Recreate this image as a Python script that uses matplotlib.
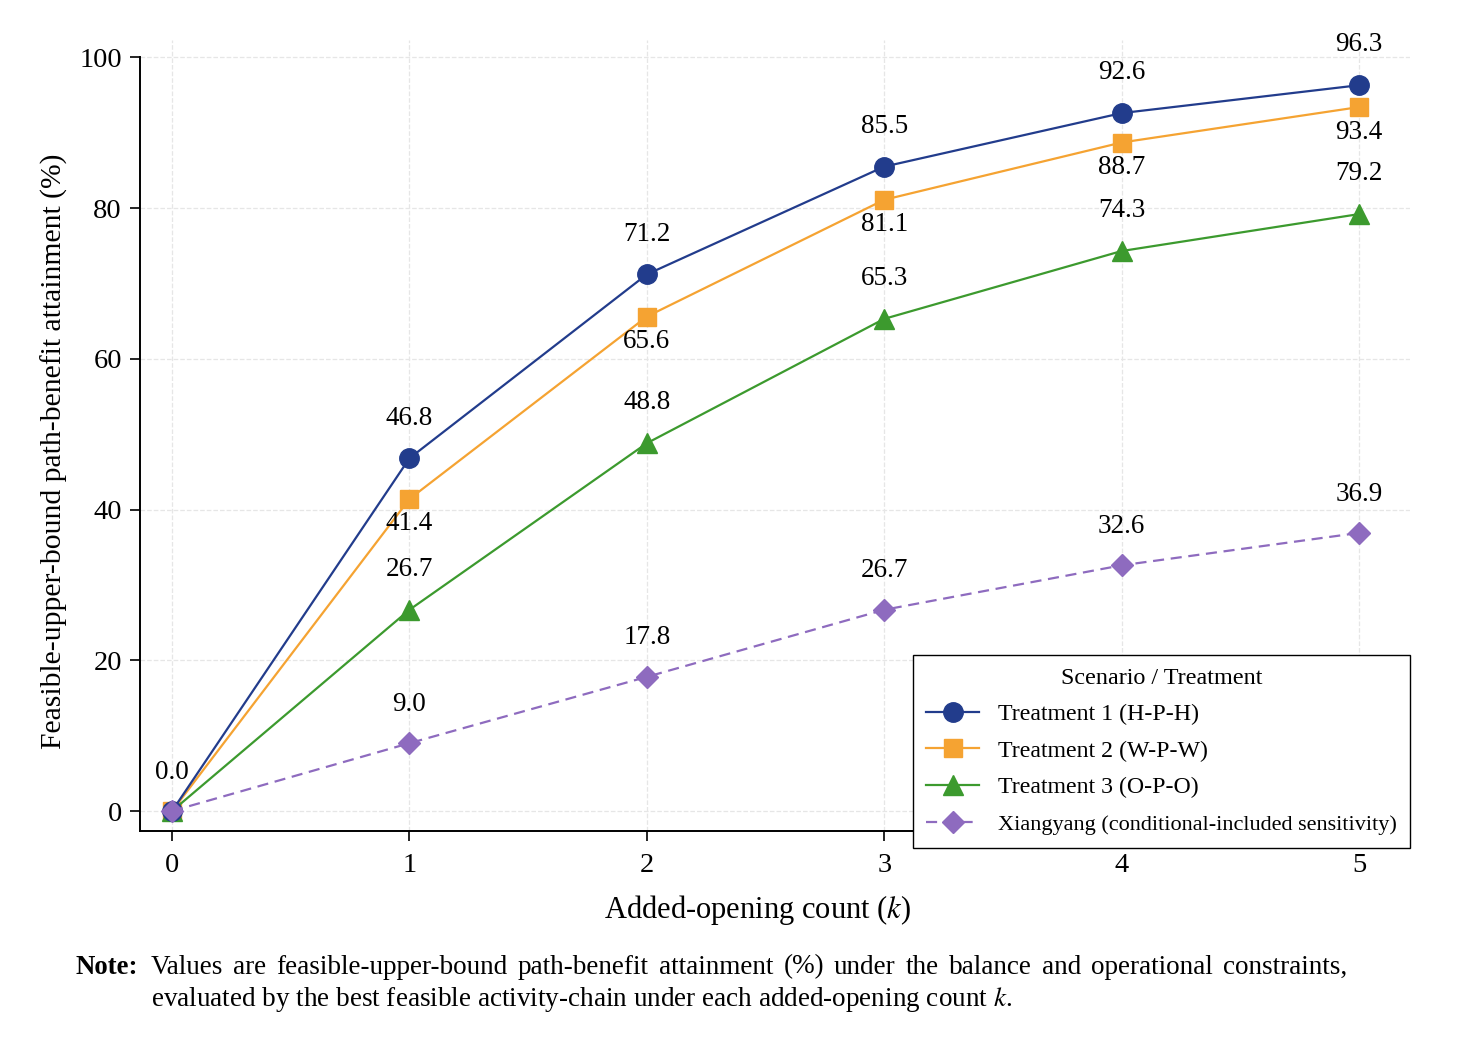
import numpy as np
import matplotlib
matplotlib.use("Agg")
import matplotlib.pyplot as plt

plt.rcParams['font.family'] = ['Liberation Serif', 'DejaVu Serif']
plt.rcParams['mathtext.fontset'] = 'stix'

# data
k = [0, 1, 2, 3, 4, 5]
t1 = [0.0, 46.8, 71.2, 85.5, 92.6, 96.3]
t2 = [0.0, 41.4, 65.6, 81.1, 88.7, 93.4]
t3 = [0.0, 26.7, 48.8, 65.3, 74.3, 79.2]
xiangyang = [0.0, 9.0, 17.8, 26.7, 32.6, 36.9]

labels = ['Treatment 1 (H-P-H)', 'Treatment 2 (W-P-W)', 'Treatment 3 (O-P-O)',
          'Xiangyang (conditional-included sensitivity)']
colors = ['#223c8c', '#f5a332', '#3c9a2e', '#8e6bbf']

note_line1 = ('Values are feasible-upper-bound path-benefit attainment (%) under the '
              'balance and operational constraints,')
note_line2 = r'evaluated by the best feasible activity-chain under each added-opening count $k$.'

fig = plt.figure(figsize=(14.63, 10.38), dpi=100)
ax = fig.add_axes([140 / 1463, 1 - 831 / 1038, 1270 / 1463, 791 / 1038])

ax.plot(k, t1, '-', color=colors[0], marker='o', ms=14, lw=1.6, label=labels[0], zorder=4)
ax.plot(k, t2, '-', color=colors[1], marker='s', ms=13.5, lw=1.6, label=labels[1], zorder=3)
ax.plot(k, t3, '-', color=colors[2], marker='^', ms=15, lw=1.6, label=labels[2], zorder=3)
ax.plot(k, xiangyang, '--', color=colors[3], marker='D', ms=11.5, lw=1.6, dashes=(5, 3),
        label=labels[3], zorder=5)

fs = 19.5
# value labels: T1 above, T2 below, T3 above, Xiangyang above
for x, y in zip(k[1:], t1[1:]):
    ax.annotate(f'{y:.1f}', (x, y), xytext=(0, 29), textcoords='offset points',
                ha='center', va='center', fontsize=fs)
for x, y in zip(k[1:], t2[1:]):
    ax.annotate(f'{y:.1f}', (x, y), xytext=(0, -18), textcoords='offset points',
                ha='center', va='center', fontsize=fs)
for x, y in zip(k[1:], t3[1:]):
    ax.annotate(f'{y:.1f}', (x, y), xytext=(0, 29), textcoords='offset points',
                ha='center', va='center', fontsize=fs)
for x, y in zip(k, xiangyang):
    ax.annotate(f'{y:.1f}', (x, y), xytext=(0, 28), textcoords='offset points',
                ha='center', va='center', fontsize=fs)

ax.set_xlim(-0.135, 5.215)
ax.set_ylim(-2.65, 102.3)
ax.set_xticks(k)
ax.set_yticks([0, 20, 40, 60, 80, 100])
ax.tick_params(labelsize=20.5, length=7, width=1.2, direction='out')
ax.tick_params(axis='x', pad=9)
ax.tick_params(axis='y', pad=6)
ax.grid(True, ls='--', color='#e6e6e6', lw=0.9)
ax.set_axisbelow(True)
for s in ['top', 'right']:
    ax.spines[s].set_visible(False)
ax.spines['left'].set_bounds(-2.65, 100)
ax.spines['left'].set_linewidth(1.4)
ax.spines['bottom'].set_linewidth(1.4)

ax.set_xlabel(r'Added-opening count ($k$)', fontsize=22)
ax.set_ylabel('Feasible-upper-bound path-benefit attainment (%)', fontsize=21.3)
ax.xaxis.set_label_coords((758 - 140) / 1270, -(893 - 831) / 791)
ax.yaxis.set_label_coords(-(140 - 68) / 1270, (831 - 451) / 791)

leg = ax.legend(title='Scenario / Treatment', loc='lower right',
                bbox_to_anchor=(1410 / 1463, 1 - 848 / 1038), bbox_transform=fig.transFigure,
                borderaxespad=0, fontsize=17.2, title_fontsize=17.4, fancybox=False, framealpha=1,
                edgecolor='black', handlelength=2.2, handletextpad=0.8, borderpad=0.55,
                labelspacing=0.62)
leg.get_texts()[3].set_fontsize(16)
leg.get_frame().set_linewidth(1.0)
leg.set_zorder(10)

# note under the chart; first line justified between x=151 and x=1347 px
W, H = 1463, 1038
fig.text(75 / W, 1 - 967 / H, 'Note:', fontsize=19.3, fontweight='bold', va='center')
renderer = fig.canvas.get_renderer()
words = note_line1.split(' ')
word_texts = [fig.text(0, 1 - 967 / H, w, fontsize=19.5, va='center') for w in words]
widths = [t.get_window_extent(renderer).width for t in word_texts]
left, right = 151, 1347
gap = (right - left - sum(widths)) / (len(words) - 1)
xpos = left
for t, w in zip(word_texts, widths):
    t.set_x(xpos / W)
    xpos += w + gap
fig.text(151 / W, 1 - 999 / H, note_line2, fontsize=19.5, va='center')

fig.savefig('out.png', dpi=100)
